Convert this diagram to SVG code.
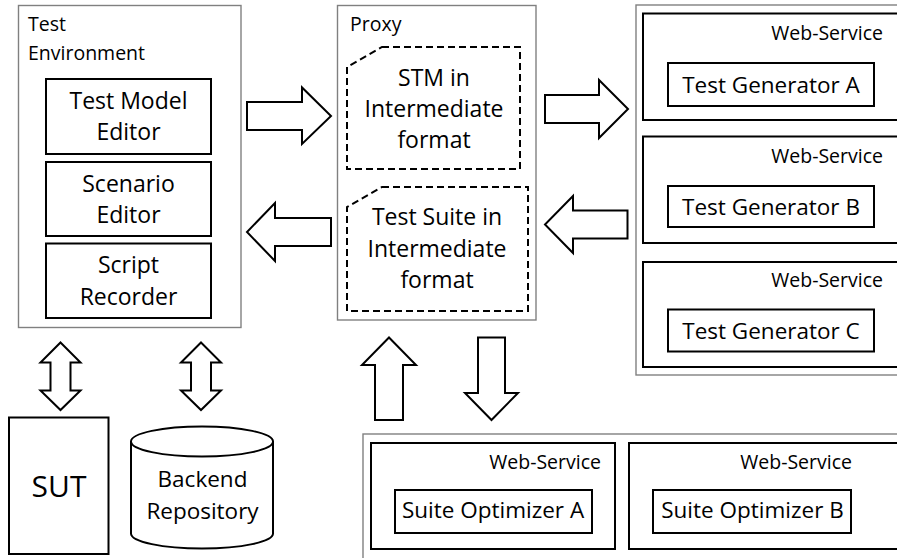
<svg xmlns="http://www.w3.org/2000/svg" width="897" height="558" viewBox="0 0 897 558">
  <style>
    text { font-family: "Open Sans", "Noto Sans", "Liberation Sans", sans-serif; fill: #000; }
    .outer { fill: #fff; stroke: #808080; stroke-width: 1.4; }
    .box { fill: #fff; stroke: #000; stroke-width: 2; }
    .dash { fill: #fff; stroke: #000; stroke-width: 2; stroke-dasharray: 7 4; }
    .arrow { fill: #fff; stroke: #000; stroke-width: 2; stroke-linejoin: miter; }
    .t { font-size: 23px; text-anchor: middle; }
    .lbl { font-size: 19.5px; }
    .ws { font-size: 19.5px; text-anchor: end; }
  </style>

  <!-- Test environment with its three tools -->
  <g id="test-environment">
    <rect class="outer" x="18.5" y="5.5" width="222.5" height="322"/>
    <text class="lbl" x="28" y="31">Test</text>
    <text class="lbl" x="28" y="60">Environment</text>
    <g id="test-model-editor">
      <rect class="box" x="46" y="79" width="165" height="75"/>
      <text class="t" x="128.5" y="109">Test Model</text>
      <text class="t" x="128.5" y="140">Editor</text>
    </g>
    <g id="scenario-editor">
      <rect class="box" x="46" y="162" width="165" height="74"/>
      <text class="t" x="128.5" y="191.5">Scenario</text>
      <text class="t" x="128.5" y="222.5">Editor</text>
    </g>
    <g id="script-recorder">
      <rect class="box" x="46" y="243.5" width="165" height="74.5"/>
      <text class="t" x="128.5" y="273">Script</text>
      <text class="t" x="128.5" y="305">Recorder</text>
    </g>
  </g>

  <!-- Proxy with intermediate documents -->
  <g id="proxy">
    <rect class="outer" x="337.5" y="5.5" width="198.5" height="314.5"/>
    <text class="lbl" x="350" y="31">Proxy</text>
    <g id="stm-intermediate">
      <polygon class="dash" points="382,47 520,47 520,169 347,169 347,67"/>
      <text class="t" x="434" y="86">STM in</text>
      <text class="t" x="434" y="117">Intermediate</text>
      <text class="t" x="434" y="148">format</text>
    </g>
    <g id="suite-intermediate">
      <polygon class="dash" points="382,187 528,187 528,311 347,311 347,207"/>
      <text class="t" x="437" y="225">Test Suite in</text>
      <text class="t" x="437" y="257">Intermediate</text>
      <text class="t" x="437" y="288">format</text>
    </g>
  </g>

  <!-- Test generator web services -->
  <g id="generators">
    <rect class="outer" x="636" y="5" width="300" height="370"/>
    <g id="ws-generator-a">
      <rect class="box" x="643" y="13.5" width="280" height="106.5"/>
      <text class="ws" x="883" y="40">Web-Service</text>
      <rect class="box" x="668" y="63" width="206" height="43"/>
      <text class="t" x="771" y="93" style="font-size:22.5px">Test Generator A</text>
    </g>
    <g id="ws-generator-b">
      <rect class="box" x="643" y="136.5" width="280" height="106.5"/>
      <text class="ws" x="883" y="163">Web-Service</text>
      <rect class="box" x="668" y="186" width="206" height="41"/>
      <text class="t" x="771" y="215" style="font-size:22.5px">Test Generator B</text>
    </g>
    <g id="ws-generator-c">
      <rect class="box" x="643" y="262" width="280" height="105"/>
      <text class="ws" x="883" y="287">Web-Service</text>
      <rect class="box" x="668" y="309.5" width="206" height="42"/>
      <text class="t" x="771" y="339" style="font-size:22.5px">Test Generator C</text>
    </g>
  </g>

  <!-- Suite optimizer web services -->
  <g id="optimizers">
    <rect class="outer" x="363" y="434" width="600" height="200"/>
    <g id="ws-optimizer-a">
      <rect class="box" x="371" y="443" width="244" height="106"/>
      <text class="ws" x="601" y="469">Web-Service</text>
      <rect class="box" x="395" y="490" width="197" height="43"/>
      <text class="t" x="493" y="518" style="font-size:22.5px">Suite Optimizer A</text>
    </g>
    <g id="ws-optimizer-b">
      <rect class="box" x="629" y="443" width="300" height="106"/>
      <text class="ws" x="852" y="469">Web-Service</text>
      <rect class="box" x="653" y="490" width="198" height="43"/>
      <text class="t" x="752.5" y="518" style="font-size:22.5px">Suite Optimizer B</text>
    </g>
  </g>

  <!-- System under test -->
  <g id="sut">
    <rect class="box" x="9" y="417.5" width="99.5" height="136.5"/>
    <text class="t" x="59" y="497" style="font-size:30px">SUT</text>
  </g>

  <!-- Backend repository cylinder -->
  <g id="backend-repository">
    <path class="box" d="M131,441.5 L131,533.5 A71,15 0 0 0 273,533.5 L273,441.5 A71,15 0 0 0 131,441.5 Z"/>
    <path fill="none" stroke="#000" stroke-width="2" d="M131,441.5 A71,15 0 0 0 273,441.5"/>
    <text class="t" x="202.5" y="487" style="font-size:22.5px">Backend</text>
    <text class="t" x="202.5" y="519" style="font-size:22.5px">Repository</text>
  </g>

  <!-- Block arrows between components -->
  <g id="connectors">
    <polygon class="arrow" points="247,102 302,102 302,87.5 331,116 302,144 302,130 247,130"/>
    <polygon class="arrow" points="331,218 275,218 275,203 247,232 275,261 275,246 331,246"/>
    <polygon class="arrow" points="545,95 599,95 599,80 628,109 599,138 599,123 545,123"/>
    <polygon class="arrow" points="627.5,210.5 573,210.5 573,196 545,224.5 573,253 573,238.5 627.5,238.5"/>
    <polygon class="arrow" points="375,420 375,365 362,365 389,337.5 416,365 403,365 403,420"/>
    <polygon class="arrow" points="478,337.5 505,337.5 505,393 518,393 491.5,420 465,393 478,393"/>
    <polygon class="arrow" points="60.5,342.5 80.5,362.5 70.5,362.5 70.5,390.5 80.5,390.5 60.5,410 40.5,390.5 50.5,390.5 50.5,362.5 40.5,362.5"/>
    <polygon class="arrow" points="201,342.5 221,362.5 211,362.5 211,390.5 221,390.5 201,410 181,390.5 191,390.5 191,362.5 181,362.5"/>
  </g>
</svg>
